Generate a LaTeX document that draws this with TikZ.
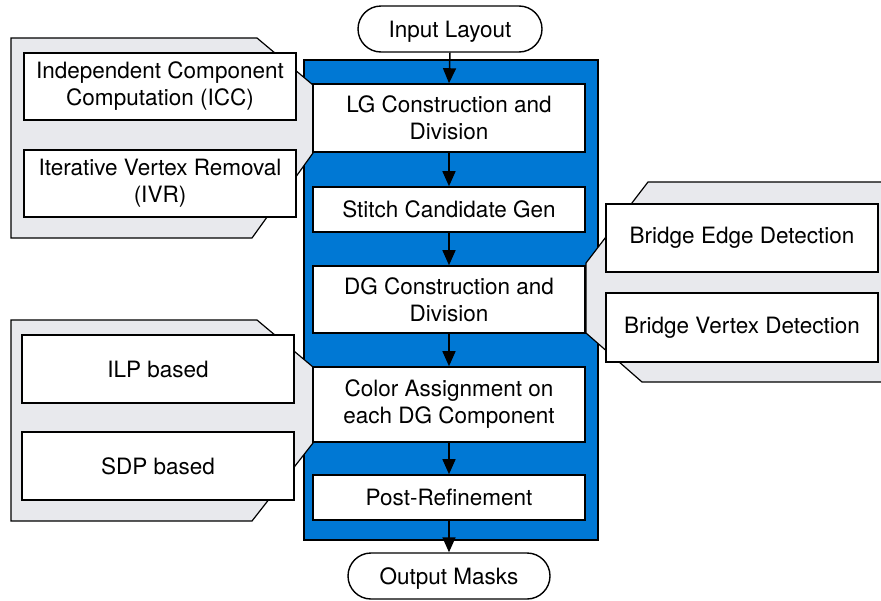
\documentclass[tikz,border=0pt]{standalone}
\usepackage{fontspec}
\setmainfont{TeX Gyre Heros}
\usetikzlibrary{arrows.meta}
\definecolor{panelblue}{RGB}{0,120,212}
\definecolor{calloutgray}{RGB}{232,233,237}
\begin{document}
\begin{tikzpicture}[x=1pt,y=-1pt,
  every node/.style={font=\fontsize{22.5}{27}\selectfont, align=center, inner sep=0pt},
  stepbox/.style={draw=black, line width=1.6pt, fill=white, minimum width=272pt},
  termbox/.style={draw=black, line width=1.4pt, fill=white, rounded corners=23pt, minimum height=46pt, text height=18pt, text depth=2pt},
  callout/.style={draw=black, line width=1.2pt, fill=calloutgray},
  flow/.style={line width=1.5pt, -{Triangle[width=13pt,length=15pt]}}]
\useasboundingbox (0,0) rectangle (881,600);
\clip (0,0) rectangle (881,600);
% blue panel
\draw[fill=panelblue, draw=black, line width=1.4pt] (304,60) rectangle (598,540);
% gray callouts
\draw[callout] (11,38) -- (257,38) -- (313,85) -- (313,153) -- (252,238) -- (11,238) -- cycle;
\draw[callout] (11,320) -- (257,320) -- (313,367) -- (313,443) -- (252,521) -- (11,521) -- cycle;
\draw[callout] (648,182) -- (890,182) -- (890,382) -- (642,382) -- (586,333) -- (586,263) -- cycle;
% terminals
\node[termbox, minimum width=184pt] (in) at (450,29) {Input Layout};
\node[termbox, minimum width=202pt] (out) at (449,576) {Output Masks};
% main steps
\node[stepbox, minimum height=68pt] (lg) at (449,118) {LG Construction and\\Division};
\node[stepbox, minimum height=45pt] (sc) at (449,209.5) {Stitch Candidate Gen};
\node[stepbox, minimum height=67pt] (dg) at (449,299.5) {DG Construction and\\Division};
\node[stepbox, minimum height=75pt] (ca) at (449,404.5) {Color Assignment on\\each DG Component};
\node[stepbox, minimum height=45pt] (pr) at (449,497.5) {Post-Refinement};
% side boxes
\node[stepbox, minimum height=67pt] (icc) at (160,86.5) {Independent Component\\Computation (ICC)};
\node[stepbox, minimum height=67pt] (ivr) at (160,183.5) {Iterative Vertex Removal\\(IVR)};
\node[stepbox, minimum height=68pt] (ilp) at (158,369) {ILP based};
\node[stepbox, minimum height=68pt] (sdp) at (158,466) {SDP based};
\node[stepbox, minimum height=68pt] (bed) at (742,238) {Bridge Edge Detection};
\node[stepbox, minimum height=69pt] (bvd) at (742,327.5) {Bridge Vertex Detection};
% arrows
\draw[flow] (in.south) -- (lg.north);
\draw[flow] (lg.south) -- (sc.north);
\draw[flow] (sc.south) -- (dg.north);
\draw[flow] (dg.south) -- (ca.north);
\draw[flow] (ca.south) -- (pr.north);
\draw[flow] (pr.south) -- (out.north);
\end{tikzpicture}
\end{document}
